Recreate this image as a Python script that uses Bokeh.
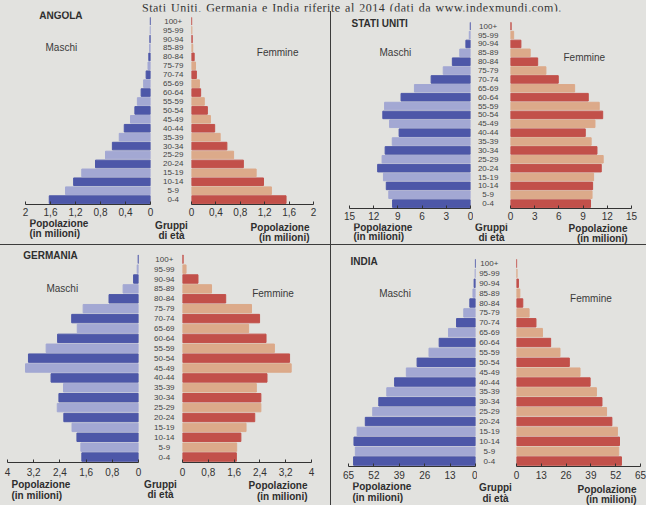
from bokeh.plotting import figure
from bokeh.models import (ColumnDataSource, Range1d, FixedTicker, CustomJSTickFormatter,
                          Label, Spacer, Div)
from bokeh.layouts import row, column
from bokeh.embed import file_html
from bokeh.resources import INLINE
from bokeh.core.properties import value

# ---------------- data (milioni di persone, 2014) ----------------
age_groups = ["0-4", "5-9", "10-14", "15-19", "20-24", "25-29", "30-34", "35-39",
              "40-44", "45-49", "50-54", "55-59", "60-64", "65-69", "70-74",
              "75-79", "80-84", "85-89", "90-94", "95-99", "100+"]

angola_maschi = [1.62, 1.36, 1.23, 1.10, 0.88, 0.72, 0.61, 0.50, 0.42, 0.32, 0.25,
                 0.21, 0.15, 0.11, 0.07, 0.04, 0.027, 0.015, 0.01, 0.005, 0.003]
angola_femmine = [1.55, 1.31, 1.18, 1.06, 0.85, 0.69, 0.58, 0.47, 0.38, 0.31, 0.26,
                  0.21, 0.15, 0.13, 0.08, 0.066, 0.044, 0.02, 0.012, 0.006, 0.003]

usa_maschi = [9.66, 10.13, 10.44, 10.79, 11.51, 10.96, 10.58, 9.70, 8.85, 10.03, 10.87,
              10.65, 8.61, 6.95, 4.88, 3.38, 2.25, 1.33, 0.57, 0.15, 0.03]
usa_femmine = [9.92, 10.11, 10.18, 10.30, 11.25, 11.49, 10.72, 10.00, 9.27, 10.47, 11.43,
               11.00, 9.64, 7.95, 5.92, 4.39, 3.37, 2.44, 1.29, 0.39, 0.08]

germania_maschi = [1.73, 1.76, 1.88, 2.03, 2.28, 2.48, 2.43, 2.29, 2.67, 3.45, 3.36,
                   2.82, 2.47, 1.87, 2.04, 1.69, 0.90, 0.47, 0.15, 0.04, 0.01]
germania_femmine = [1.67, 1.68, 1.81, 1.97, 2.24, 2.43, 2.43, 2.29, 2.62, 3.37, 3.32,
                    2.85, 2.59, 2.05, 2.39, 2.14, 1.34, 0.90, 0.48, 0.11, 0.02]

india_maschi = [62.4, 61.5, 62.2, 60.6, 56.4, 52.6, 49.5, 45.4, 41.4, 35.4, 29.9,
                23.8, 18.6, 13.8, 9.7, 6.0, 2.9, 1.3, 0.7, 0.2, 0.05]
india_femmine = [55.0, 53.6, 54.0, 52.9, 50.0, 47.2, 44.8, 41.9, 38.6, 33.3, 27.7,
                 22.8, 17.9, 13.6, 10.2, 6.6, 3.3, 1.75, 1.0, 0.3, 0.07]

angola_ticks = [0, 0.4, 0.8, 1.2, 1.6, 2]
usa_ticks = [0, 3, 6, 9, 12, 15]
germania_ticks = [0, 0.8, 1.6, 2.4, 3.2, 4]
india_ticks = [0, 13, 26, 39, 52, 65]

titles = ["ANGOLA", "STATI UNITI", "GERMANIA", "INDIA"]
caption = "Stati Uniti, Germania e India riferite al 2014 (dati da www.indexmundi.com)."

# ---------------- style ----------------
BG = "#e2e2df"
DARK_BLUE, LIGHT_BLUE = "#4d57a8", "#a3a8d3"
DARK_RED, TAN = "#c2504a", "#dcaa8a"
TXT = "#2e2e2e"
FONT = "Liberation Sans"
Y0 = -0.55

fmt = CustomJSTickFormatter(code="""
    return Number.isInteger(tick) ? tick.toString() : tick.toFixed(1).replace('.', ',');
""")


def style_axis(ax, ticks, standoff):
    ax.ticker = FixedTicker(ticks=ticks)
    ax.formatter = fmt
    ax.major_tick_in = 3
    ax.major_tick_out = 0
    ax.minor_tick_line_color = None
    ax.axis_line_color = "#333333"
    ax.major_tick_line_color = "#333333"
    ax.major_label_text_font = FONT
    ax.major_label_text_font_size = "10px"
    ax.major_label_text_color = "#333333"
    ax.major_label_standoff = standoff


def base_fig(w, h, xr, yr, bl, br, bb, axis=True):
    p = figure(width=w, height=h, x_range=xr, y_range=yr,
               toolbar_location=None, output_backend="svg",
               y_axis_location=None, x_axis_location="below" if axis else None,
               min_border_left=bl, min_border_right=br,
               min_border_top=0, min_border_bottom=bb,
               background_fill_color=BG, border_fill_color=BG,
               outline_line_color=None)
    p.grid.visible = False
    return p


def lab(p, x, y, text, align="left", bold=False, size="10px", color=TXT, xoff=0):
    p.add_layout(Label(x=x, y=y, text=text, text_align=align, text_baseline="middle",
                       text_font=FONT, text_font_size=size, text_color=color,
                       text_font_style="bold" if bold else "normal", x_offset=xoff))


def panel(title, maschi, femmine, ticks, g):
    xmax = ticks[-1]
    H, so = g["H"], g["so"]
    p100, p04 = g["p100"], g["p04"]             # px of the 100+ and 0-4 rows
    rpx = (p04 - p100) / 20.0
    fh = int(round(p04 - Y0 * rpx))            # frame height (top -> axis)
    ytop = 20 + p100 / rpx
    BB = so + 12                               # room for the tick labels
    Hm = fh + BB
    Hs = H - Hm
    W = g["wm"] + g["wc"] + g["wf"]
    yr = Range1d(Y0, ytop)

    idx = list(range(len(age_groups)))
    src = ColumnDataSource(dict(
        idx=idx, age=age_groups, maschi=maschi, femmine=femmine,
        mcol=[DARK_BLUE if i % 2 == 0 else LIGHT_BLUE for i in idx],
        fcol=[DARK_RED if i % 2 == 0 else TAN for i in idx]))

    # Maschi
    pm = base_fig(g["wm"], Hm, Range1d(xmax, 0), yr, g["blm"], g["brm"], BB)
    pm.hbar(y="idx", left=0, right="maschi", height=0.85, color="mcol", source=src)
    style_axis(pm.xaxis[0], ticks, so)
    lab(pm, g["tx"], 20 + (p100 - g["tpy"]) / rpx, title, bold=True)
    lab(pm, g["mx"], 17.0, "Maschi", color="#3a3a3a")

    # Gruppi di eta'
    pc = base_fig(g["wc"], Hm, Range1d(0, 1), yr, 0, 0, BB, axis=False)
    pc.text(x=g["cx"], y="idx", text="age", source=src, text_align="center",
            text_baseline="middle", text_font=value(FONT), text_font_size=value("8px"),
            text_color="#444444")

    # Femmine
    pf = base_fig(g["wf"], Hm, Range1d(0, xmax), yr, g["blf"], g["brf"], BB)
    pf.hbar(y="idx", left=0, right="femmine", height=0.85, color="fcol", source=src)
    style_axis(pf.xaxis[0], ticks, so)
    lab(pf, g["fx"], 16.5, "Femmine", color="#3a3a3a")

    # strip below the axes with the axis titles (pixel coordinates)
    st = base_fig(W, Hs, Range1d(0, W), Range1d(-Hs, 0), 0, 0, 0, axis=False)
    o = [v - BB for v in g["off"]]
    lab(st, g["blm"] + 4, -o[0], "Popolazione", bold=True)
    lab(st, g["blm"] + 4, -o[1], "(in milioni)", bold=True)
    lab(st, g["gx"], -o[4], "Gruppi", align="center", bold=True)
    lab(st, g["gx"], -o[5], "di età", align="center", bold=True)
    lab(st, W - g["brf"] - 4, -o[2], "Popolazione", align="right", bold=True)
    lab(st, W - g["brf"] - 4, -o[3], "(in milioni)", align="right", bold=True)

    return column(row(pm, pc, pf, spacing=0), st, spacing=0)


CAP_H, TOP_H, BOT_H = 11, 233, 260
LEFT_W, RIGHT_W = 330, 315

p_angola = panel(titles[0], angola_maschi, angola_femmine, angola_ticks, dict(
    H=TOP_H, p100=9.7, p04=188, so=3, wm=154, blm=25, brm=4, wc=34, wf=142, blf=3, brf=17,
    cx=0.55, gx=171, tx=1.78, tpy=4, mx=1.68, fx=1.07, off=(19, 29, 23, 33, 21, 31)))
p_usa = panel(titles[1], usa_maschi, usa_femmine, usa_ticks, dict(
    H=TOP_H, p100=14.7, p04=192, so=3, wm=142, blm=18, brm=3, wc=34, wf=139, blf=3, brf=15,
    cx=0.43, gx=160, tx=14.75, tpy=12.3, mx=11.28, fx=6.57, off=(19, 28, 20, 30, 19, 29)))
p_germania = panel(titles[2], germania_maschi, germania_femmine, germania_ticks, dict(
    H=BOT_H, p100=13.7, p04=211.3, so=5, wm=142, blm=7, brm=4, wc=37, wf=151, blf=3, brf=19,
    cx=0.59, gx=160, tx=3.52, tpy=10, mx=2.81, fx=2.16, off=(22, 33, 23, 34, 22, 32)))
p_india = panel(titles[3], india_maschi, india_femmine, india_ticks, dict(
    H=BOT_H, p100=18, p04=215.7, so=4, wm=146, blm=17, brm=2, wc=36, wf=133, blf=3, brf=6,
    cx=0.33, gx=164, tx=64.0, tpy=16.3, mx=49.3, fx=28.1, off=(20, 31, 23, 33, 21, 32)))

LINE = "#3c3c3c"
hline_l = Spacer(width=LEFT_W, height=1, styles={"background-color": LINE})
hline_r = Spacer(width=RIGHT_W, height=1, styles={"background-color": LINE})
vline = Spacer(width=1, height=TOP_H + 1 + BOT_H, styles={"background-color": LINE})

cap = Div(text='<div style="font-family: \'Liberation Serif\', serif; font-size: 12px; '
               'line-height: 11px; color: #333; white-space: nowrap; padding-left: 142px; '
               'letter-spacing: 0.5px; word-spacing: 1px;">' + caption + '</div>',
          width=LEFT_W + 1 + RIGHT_W, height=CAP_H, margin=0,
          styles={"background-color": BG})

left = column(p_angola, hline_l, p_germania, spacing=0)
right = column(p_usa, hline_r, p_india, spacing=0)
layout = column(cap, row(left, vline, right, spacing=0), spacing=0,
                styles={"background-color": BG})

open("out.html", "w").write(file_html(layout, INLINE))
